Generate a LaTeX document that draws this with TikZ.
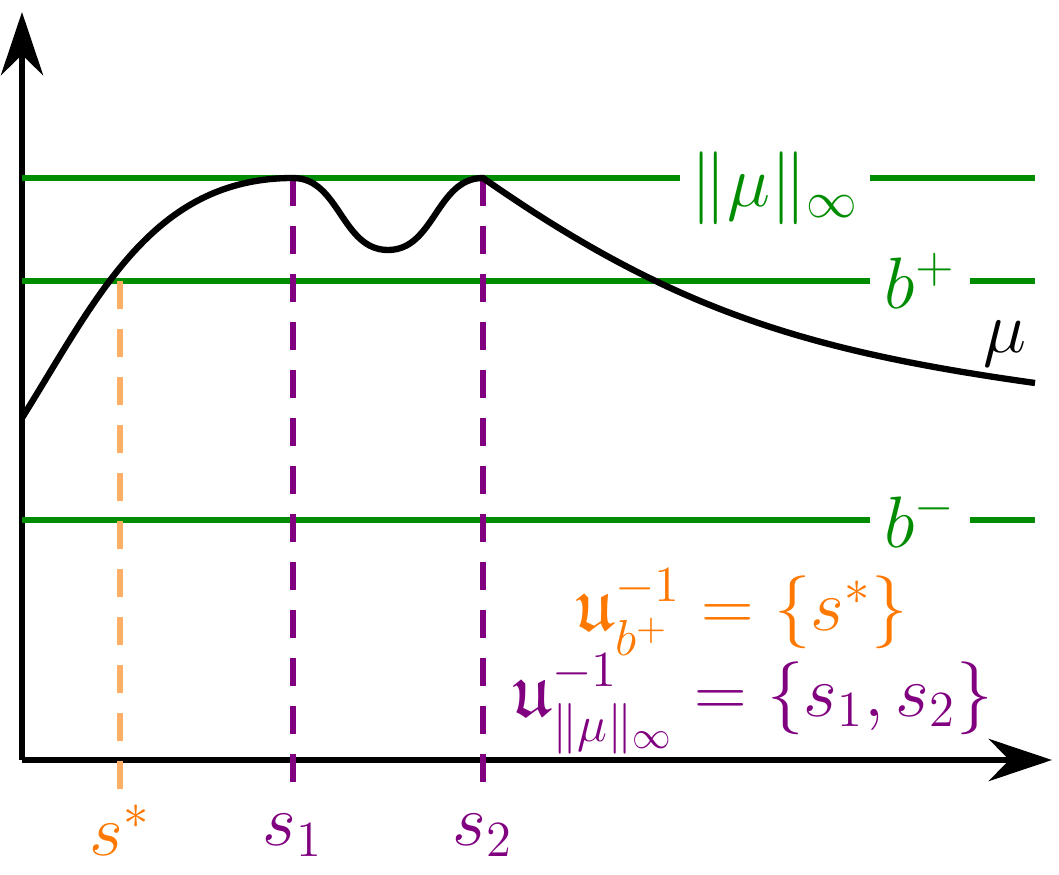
\documentclass[tikz,border=0pt]{standalone}
\usepackage{amsmath,amssymb}
\usetikzlibrary{arrows.meta}
\definecolor{lvlgreen}{RGB}{0,140,0}
\definecolor{ptorange}{RGB}{255,120,0}
\definecolor{ptpurple}{RGB}{128,0,128}
\tikzset{
  axis/.style={line width=1.8pt, -{Stealth[length=18pt,width=12pt]}},
  level/.style={lvlgreen, line width=1.8pt},
  drop/.style={line width=1.8pt, dash pattern=on 0.28cm off 0.2cm},
  big/.style={font=\fontsize{22}{26}\selectfont}
}
\begin{document}
\begin{tikzpicture}
    \useasboundingbox (0,0) rectangle (10.59,8.74);
    % axes
    \coordinate (O) at (0.22,1.14);
    \coordinate (xend) at (10.52,1.14);
    \coordinate (yend) at (0.22,8.62);
    \draw[axis] (O) -- (xend);
    \draw[axis] (O) -- (yend);

    % levels
    \node[big, lvlgreen] (sup) at (7.75,6.86) {$\|\mu\|_\infty$};
    \node[big, lvlgreen] (bp) at (9.2,5.93) {$b^+$};
    \node[big, lvlgreen] (bm) at (9.2,3.54) {$b^-$};
    \coordinate (supl) at (0.22,6.96); \coordinate (supr) at (10.35,6.96);
    \coordinate (bpl) at (0.22,5.93);  \coordinate (bpr) at (10.35,5.93);
    \coordinate (bml) at (0.22,3.54);  \coordinate (bmr) at (10.35,3.54);
    \draw[level] (supl) -- (6.8,6.96);
    \draw[level] (8.7,6.96) -- (supr);
    \draw[level] (bpl) -- (8.7,5.93);
    \draw[level] (9.7,5.93) -- (bpr);
    \draw[level] (bml) -- (8.7,3.54);
    \draw[level] (9.7,3.54) -- (bmr);

    % points
    \node[big, ptorange] (sstar) at (1.2,0.44) {$s^*$};
    \node[big, ptpurple] (s1) at (2.93,0.39) {$s_1$};
    \node[big, ptpurple] (s2) at (4.83,0.39) {$s_2$};
    \draw[drop, ptorange!60] (1.2,5.93) -- (sstar.north);
    \draw[drop, ptpurple] (2.93,6.96) -- (s1.north);
    \draw[drop, ptpurple] (4.83,6.96) -- (s2.north);

    % curve
    \draw[line width=1.8pt] (0.22,4.56) to[out=58,in=180] (2.93,6.96)
        to[out=0,in=180] (3.88,6.24) to[out=0,in=180] (4.83,6.96)
        to[out=-35,in=172] (10.35,4.91);
    \node[big] (mu) at (10.05,5.3) {$\mu$};

    % preimages
    \node[big, ptorange, anchor=east] (pre1) at (9.2,2.62) {$\mathfrak{u}^{-1}_{b^+} = \{s^*\}$};
    \node[big, ptpurple, anchor=east] (pre2) at (10.05,1.7) {$\mathfrak{u}^{-1}_{\|\mu\|_\infty} = \{s_1, s_2\}$};
\end{tikzpicture}
\end{document}
